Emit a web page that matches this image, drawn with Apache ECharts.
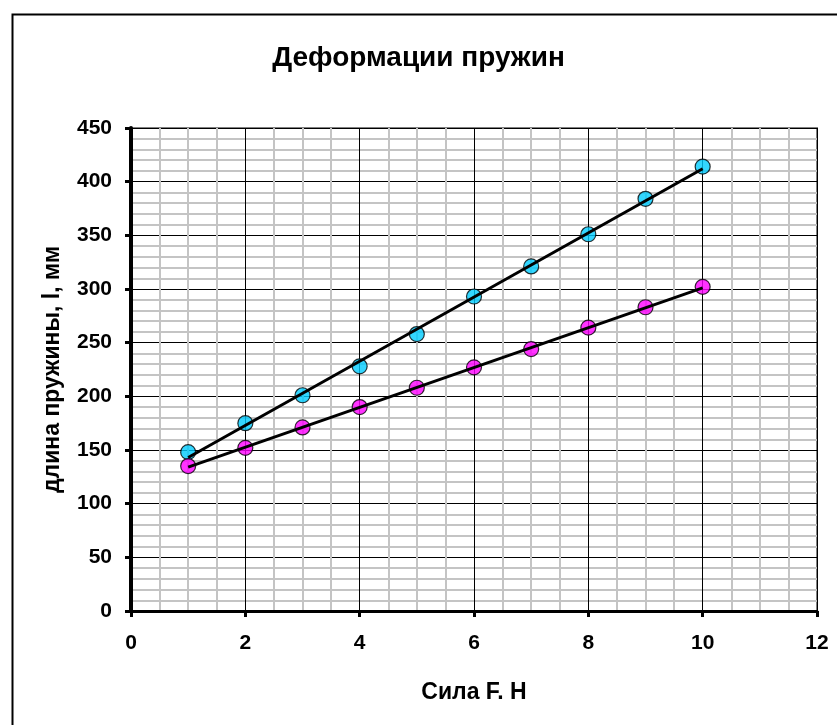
<!DOCTYPE html>
<html><head><meta charset="utf-8">
<script src="https://cdn.jsdelivr.net/npm/echarts@6/dist/echarts.min.js"></script>
<style>html,body{margin:0;padding:0;background:#fff}#c{width:837px;height:725px}</style>
</head><body><div id="c"></div>
<script>
const forces = [1, 2, 3, 4, 5, 6, 7, 8, 9, 10];
const spring1 = [148, 175, 201, 228, 258, 293, 321, 351, 384, 414];
const spring2 = [135, 152, 171, 190, 208, 227, 244, 264, 283, 302];
const trend1 = [[1, 143], [10, 412]];
const trend2 = [[1, 134], [10, 301]];
const titleText = 'Деформации пружин';
const xName = 'Сила F. Н';
const yName = 'длина пружины, l, мм';

const font = '"Liberation Sans", Arial, sans-serif';
const chart = echarts.init(document.getElementById('c'));
const pts = (ys) => forces.map((x, i) => [x, ys[i]]);
chart.setOption({
  backgroundColor: '#fff',
  animation: false,
  title: { text: titleText, left: 'center', top: 39,
    textStyle: { fontFamily: font, fontWeight: 'bold', fontSize: 28, color: '#000' } },
  graphic: [{ type: 'rect', left: 10, top: 12, shape: { width: 900, height: 900 },
    style: { fill: 'none', stroke: '#000', lineWidth: 2 }, silent: true }],
  grid: { left: 131, right: 20, top: 128, bottom: 114, show: true,
    borderColor: '#808080', borderWidth: 2, backgroundColor: 'transparent' },
  xAxis: { type: 'value', min: 0, max: 12, interval: 2,
    name: xName, nameLocation: 'middle', nameGap: 70,
    nameTextStyle: { fontFamily: font, fontWeight: 'bold', fontSize: 23, color: '#000' },
    axisLine: { lineStyle: { color: '#000', width: 3 } },
    axisTick: { show: true, length: 6, lineStyle: { color: '#000', width: 3 } },
    axisLabel: { margin: 22, fontFamily: font, fontWeight: 'bold', fontSize: 21, color: '#000' },
    splitLine: { show: true, lineStyle: { color: '#000', width: 1 } },
    minorTick: { show: false, splitNumber: 4 },
    minorSplitLine: { show: true, lineStyle: { color: '#c4c4c4', width: 2 } } },
  yAxis: { type: 'value', min: 0, max: 450, interval: 50,
    name: yName, nameLocation: 'middle', nameGap: 67,
    nameTextStyle: { fontFamily: font, fontWeight: 'bold', fontSize: 23, color: '#000' },
    axisLine: { show: true, lineStyle: { color: '#000', width: 4 } },
    axisTick: { show: true, length: 6, lineStyle: { color: '#000', width: 3 } },
    axisLabel: { margin: 19, fontFamily: font, fontWeight: 'bold', fontSize: 21, color: '#000' },
    splitLine: { show: true, lineStyle: { color: '#000', width: 1 } },
    minorTick: { show: false, splitNumber: 5 },
    minorSplitLine: { show: true, lineStyle: { color: '#c4c4c4', width: 2 } } },
  series: [
    { type: 'scatter', data: pts(spring1), symbol: 'circle', symbolSize: 15, z: 3,
      itemStyle: { color: '#00CCFF', borderColor: '#000', borderWidth: 1.2 } },
    { type: 'scatter', data: pts(spring2), symbol: 'circle', symbolSize: 15, z: 3,
      itemStyle: { color: '#FF00FF', borderColor: '#000', borderWidth: 1.2 } },
    { type: 'line', data: trend1, showSymbol: false, symbol: 'none', z: 4,
      lineStyle: { color: '#000', width: 3 } },
    { type: 'line', data: trend2, showSymbol: false, symbol: 'none', z: 4,
      lineStyle: { color: '#000', width: 3 } }
  ]
});
</script></body></html>
